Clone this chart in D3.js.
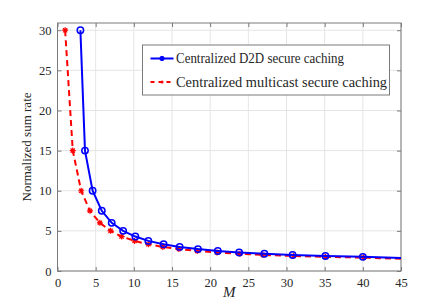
<!DOCTYPE html>
<html>
<head>
    <meta charset="utf-8">
    <title>Normalized sum rate vs M</title>
    <script type="text/javascript" src="https://cdn.jsdelivr.net/npm/d3@7"></script>
    <style type="text/css">
        body {
            margin: 0;
            background: #fff;
        }

        svg text {
            font-family: "Liberation Serif", "Times New Roman", Times, "DejaVu Serif", serif !important;
            fill: #262626;
        }

        .grid line {
            stroke: #e5e5e5;
            stroke-width: 1;
        }

        .frame {
            fill: none;
            stroke: #7a7a7a;
            stroke-width: 1;
        }
    </style>
</head>

<body>

<script type="text/javascript">
    // values
    var d2dM    = [3, 3.6, 4.6, 5.8, 7.1, 8.6, 10.2, 11.9, 13.9, 16.0, 18.4, 21.0, 23.8, 27.1, 30.8, 35.1, 40.0, 45.6];
    var d2dRate = [30, 15, 10, 7.5, 6, 5, 4.29, 3.75, 3.33, 3.0, 2.73, 2.5, 2.31, 2.14, 2.0, 1.875, 1.76, 1.6];

    var mcM    = [1, 2, 3.1, 4.25, 5.55, 6.95, 8.4, 10.1, 11.9, 13.8, 15.9, 18.3, 20.9, 23.9, 26.9, 30.9, 35.1, 40.1, 45.6];
    var mcRate = [30, 15, 10, 7.5, 6, 5, 4.29, 3.75, 3.33, 3.0, 2.73, 2.5, 2.31, 2.14, 2.0, 1.875, 1.76, 1.67, 1.5];

    var xTicks = [0, 5, 10, 15, 20, 25, 30, 35, 40, 45];
    var yTicks = [0, 5, 10, 15, 20, 25, 30];
    var seriesNames = ["Centralized D2D secure caching", "Centralized multicast secure caching"];

    var w = 443, h = 305,
        pLeft = 57.5, pRight = 401, pTop = 23, pBottom = 271;

    var x = d3.scaleLinear().domain([0, 45]).range([pLeft, pRight]);
    var y = d3.scaleLinear().domain([0, 30.9]).range([pBottom, pTop]);

    var svg = d3.select("body")
            .append("svg")
                .attr("width", w)
                .attr("height", h)
                .attr("font-family", "Liberation Serif, serif");

    svg.append("defs").append("clipPath")
            .attr("id", "plot-clip")
        .append("rect")
            .attr("x", pLeft)
            .attr("y", pTop - 6)
            .attr("width", pRight - pLeft)
            .attr("height", pBottom - pTop + 6);

    // grid
    var grid = svg.append("g").attr("class", "grid");
    grid.selectAll(".gx").data(xTicks).enter().append("line")
        .attr("x1", function (d) {return x(d);})
        .attr("x2", function (d) {return x(d);})
        .attr("y1", pTop).attr("y2", pBottom);
    grid.selectAll(".gy").data(yTicks).enter().append("line")
        .attr("y1", function (d) {return y(d);})
        .attr("y2", function (d) {return y(d);})
        .attr("x1", pLeft).attr("x2", pRight);

    // axes, ticks inward on all sides
    function styleAxis(g) {
        g.attr("font-family", null);
        g.select(".domain").remove();
        g.selectAll(".tick line").attr("stroke", "#7a7a7a");
        g.selectAll(".tick text")
            .style("font-size", "12.5px")
            .attr("fill", "#262626");
    }

    svg.append("g")
        .attr("transform", "translate(0," + pBottom + ")")
        .call(d3.axisBottom(x).tickValues(xTicks).tickSize(-4).tickPadding(7))
        .call(styleAxis);
    svg.append("g")
        .attr("transform", "translate(0," + pTop + ")")
        .call(d3.axisTop(x).tickValues(xTicks).tickSize(-4).tickFormat(""))
        .call(styleAxis);
    svg.append("g")
        .attr("transform", "translate(" + pLeft + ",0)")
        .call(d3.axisLeft(y).tickValues(yTicks).tickSize(-4).tickPadding(6))
        .call(styleAxis);
    svg.append("g")
        .attr("transform", "translate(" + pRight + ",0)")
        .call(d3.axisRight(y).tickValues(yTicks).tickSize(-4).tickFormat(""))
        .call(styleAxis);

    svg.append("rect")
        .attr("class", "frame")
        .attr("x", pLeft).attr("y", pTop)
        .attr("width", pRight - pLeft).attr("height", pBottom - pTop);

    // series
    var plot = svg.append("g").attr("clip-path", "url(#plot-clip)");

    var mcData = mcM.map(function (m, i) {return {m: m, v: mcRate[i]};});
    var d2dData = d2dM.map(function (m, i) {return {m: m, v: d2dRate[i]};});

    var line = d3.line()
        .x(function (d) {return x(d.m);})
        .y(function (d) {return y(d.v);});

    function star(g, s) {
        g.append("path")
            .attr("d", "M" + (-s) + ",0H" + s + "M0," + (-s) + "V" + s +
                "M" + (-s * 0.7) + "," + (-s * 0.7) + "L" + (s * 0.7) + "," + (s * 0.7) +
                "M" + (-s * 0.7) + "," + (s * 0.7) + "L" + (s * 0.7) + "," + (-s * 0.7))
            .attr("stroke", "#ff0000")
            .attr("stroke-width", 1.2)
            .attr("fill", "none");
    }

    plot.append("path")
        .datum(mcData)
        .attr("d", line)
        .attr("fill", "none")
        .attr("stroke", "#ff0000")
        .attr("stroke-width", 2)
        .attr("stroke-dasharray", "6,4");

    plot.selectAll(".mc").data(mcData).enter().append("g")
        .attr("transform", function (d) {return "translate(" + x(d.m) + "," + y(d.v) + ")";})
        .each(function () {star(d3.select(this), 3);});

    plot.append("path")
        .datum(d2dData)
        .attr("d", line)
        .attr("fill", "none")
        .attr("stroke", "#0000ff")
        .attr("stroke-width", 2);

    plot.selectAll(".d2d").data(d2dData).enter().append("circle")
        .attr("cx", function (d) {return x(d.m);})
        .attr("cy", function (d) {return y(d.v);})
        .attr("r", 3.2)
        .attr("fill", "none")
        .attr("stroke", "#0000ff")
        .attr("stroke-width", 1.5);

    // axis labels
    svg.append("text")
        .attr("x", x(22.5))
        .attr("y", 297)
        .attr("text-anchor", "middle")
        .style("font-size", "15px")
        .style("font-style", "italic")
        .text("M");

    svg.append("text")
        .attr("transform", "translate(31," + ((pTop + pBottom) / 2) + ") rotate(-90)")
        .attr("text-anchor", "middle")
        .style("font-size", "13px")
        .text("Normalized sum rate");

    // legend
    var legend = svg.append("g").attr("transform", "translate(142.5,45)");
    legend.append("rect")
        .attr("width", 247)
        .attr("height", 50)
        .attr("fill", "#fff")
        .attr("stroke", "#7a7a7a")
        .attr("stroke-width", 1);

    var rows = legend.selectAll(".row").data(seriesNames).enter().append("g")
        .attr("transform", function (d, i) {return "translate(0," + (13.5 + i * 23.5) + ")";});

    rows.append("line")
        .attr("x1", 8).attr("x2", 31)
        .attr("stroke", function (d, i) {return i === 0 ? "#0000ff" : "#ff0000";})
        .attr("stroke-width", 2)
        .attr("stroke-dasharray", function (d, i) {return i === 0 ? null : "4,4";});

    rows.each(function (d, i) {
        var g = d3.select(this);
        if (i === 0) {
            g.append("circle").attr("cx", 19.5).attr("r", 2.2)
                .attr("fill", "#0000ff").attr("stroke", "#0000ff");
        } else {
            g.append("circle").attr("cx", 19.5).attr("r", 1.6).attr("fill", "#ff0000");
        }
    });

    rows.append("text")
        .attr("x", 33.5)
        .attr("dy", "0.35em")
        .style("font-size", "14px")
        .attr("textLength", function (d, i) {return i === 0 ? 168 : 211;})
        .attr("lengthAdjust", "spacingAndGlyphs")
        .text(function (d) {return d;});
</script>

</body>
</html>
